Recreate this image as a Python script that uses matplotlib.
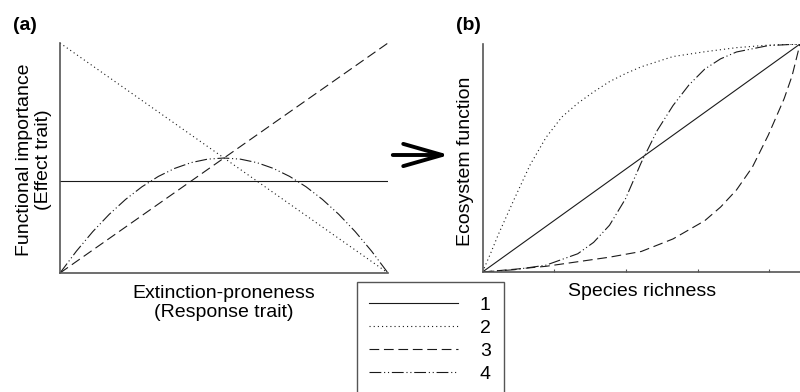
"""Two-panel conceptual figure: trait correlations (a) and the resulting
ecosystem function vs species richness curves (b)."""

import matplotlib
matplotlib.use('Agg')
import matplotlib.pyplot as plt
from matplotlib.patches import Rectangle

plt.rcParams['font.family'] = ['Liberation Sans', 'DejaVu Sans']
plt.rcParams['lines.scale_dashes'] = False

W, H = 800, 392

# panel (a): functional importance vs extinction-proneness
a_x = [0, 0.05, 0.1, 0.15, 0.2, 0.25, 0.3, 0.35, 0.4, 0.45, 0.5,
       0.55, 0.6, 0.65, 0.7, 0.75, 0.8, 0.85, 0.9, 0.95, 1.0]
a_flat = [0.4] * len(a_x)
a_neg = [1.0, 0.95, 0.9, 0.85, 0.8, 0.75, 0.7, 0.65, 0.6, 0.55, 0.5,
         0.45, 0.4, 0.35, 0.3, 0.25, 0.2, 0.15, 0.1, 0.05, 0.0]
a_pos = a_x
a_hump = [0, 0.095, 0.18, 0.255, 0.32, 0.375, 0.42, 0.455, 0.48, 0.495, 0.5,
          0.495, 0.48, 0.455, 0.42, 0.375, 0.32, 0.255, 0.18, 0.095, 0]

# panel (b): ecosystem function vs species richness
b1_x = [0, 1.0]
b1_y = [0, 1.0]
b2_x = [0, 0.025, 0.05, 0.1, 0.15, 0.2, 0.25, 0.3, 0.35, 0.4, 0.45, 0.5,
        0.6, 0.7, 0.8, 0.9, 1.0]
b2_y = [0, 0.08, 0.165, 0.32, 0.47, 0.59, 0.68, 0.74, 0.79, 0.835, 0.87, 0.9,
        0.945, 0.966, 0.984, 0.995, 1.0]
b3_x = [0, 0.1, 0.2, 0.3, 0.4, 0.5, 0.6, 0.7, 0.75, 0.8, 0.85, 0.9, 0.95,
        0.975, 1.0]
b3_y = [0, 0.012, 0.025, 0.045, 0.065, 0.09, 0.145, 0.225, 0.285, 0.36, 0.46,
        0.6, 0.76, 0.86, 1.0]
b4_x = [0, 0.1, 0.2, 0.3, 0.35, 0.4, 0.45, 0.5, 0.55, 0.6, 0.65, 0.7, 0.75,
        0.8, 0.9, 1.0]
b4_y = [0, 0.01, 0.03, 0.08, 0.13, 0.205, 0.32, 0.48, 0.62, 0.73, 0.82, 0.89,
        0.935, 0.965, 0.993, 1.0]

legend_labels = ['1', '2', '3', '4']

styles = [
    dict(linestyle='-'),
    dict(dashes=(0.8, 2.2)),
    dict(dashes=(7.0, 3.4)),
    dict(dashes=(8.5, 2.0, 0.8, 2.0, 0.8, 2.0)),
]
lc = '#1a1a1a'
lw = 0.8


def fig_box(x0, y0, x1, y1):
    # pixel box (top-left origin) -> figure fraction rect
    return [x0 / W, 1 - y1 / H, (x1 - x0) / W, (y1 - y0) / H]


fig = plt.figure(figsize=(W / 100, H / 100), dpi=100)
ax1 = fig.add_axes(fig_box(60, 43, 388, 273))
ax2 = fig.add_axes(fig_box(482.5, 44, 800, 272))

lines = []
for ys, st in zip((a_flat, a_neg, a_pos, a_hump), styles):
    ln, = ax1.plot(a_x, ys, color=lc, lw=lw, **st)
    lines.append(ln)

for xs, ys, st in zip((b1_x, b2_x, b3_x, b4_x), (b1_y, b2_y, b3_y, b4_y), styles):
    ax2.plot(xs, ys, color=lc, lw=lw, **st)

for ax in (ax1, ax2):
    ax.set_xlim(0, 1)
    ax.set_ylim(0, 1)
    for s in ('top', 'right'):
        ax.spines[s].set_visible(False)
    for s in ('left', 'bottom'):
        ax.spines[s].set_color('#555555')
        ax.spines[s].set_linewidth(1.2)
    ax.set_yticks([])
ax1.set_xticks([])
ax2.set_xticks([0.226, 0.452, 0.678, 0.903])
ax2.set_xticklabels([])
ax2.tick_params(axis='x', direction='in', length=2, width=0.8, color='#555555')

fs = 14
fig.text(13 / W, 1 - 25 / H, '(a)', fontsize=14, fontweight='bold', va='center')
fig.text(456 / W, 1 - 25 / H, '(b)', fontsize=14, fontweight='bold', va='center')

fig.text(34 / W, 1 - 160 / H, 'Functional importance\n(Effect trait)', fontsize=fs,
         rotation=90, ha='center', va='center', linespacing=1.15)
fig.text(224 / W, 1 - 303 / H, 'Extinction-proneness\n(Response trait)', fontsize=fs,
         ha='center', va='center', linespacing=1.2)
fig.text(465 / W, 1 - 161 / H, 'Ecosystem function', fontsize=fs,
         rotation=90, ha='center', va='center')
fig.text(642 / W, 1 - 292 / H, 'Species richness', fontsize=fs,
         ha='center', va='center')

# arrow between the panels
fig.add_artist(plt.Annotation(
    '', xy=(452 / W, 1 - 155 / H), xytext=(390 / W, 1 - 155 / H),
    xycoords='figure fraction', textcoords='figure fraction',
    arrowprops=dict(arrowstyle='->,head_length=1.4,head_width=0.4',
                    lw=2.8, color='black', mutation_scale=20)))

# legend box, runs off the bottom edge
box = Rectangle((357 / W, 1 - 420 / H), 147 / W, 138 / H, transform=fig.transFigure,
                fill=False, edgecolor='#555555', lw=1.0, clip_on=False)
fig.add_artist(box)
fig.legend(lines, legend_labels, loc='upper left', frameon=False,
           bbox_to_anchor=(369 / W, 1 - 296 / H), borderaxespad=0, borderpad=0,
           fontsize=fs, handlelength=4.6, handletextpad=1.1, labelspacing=0.28)

plt.savefig('out.png', dpi=100)
